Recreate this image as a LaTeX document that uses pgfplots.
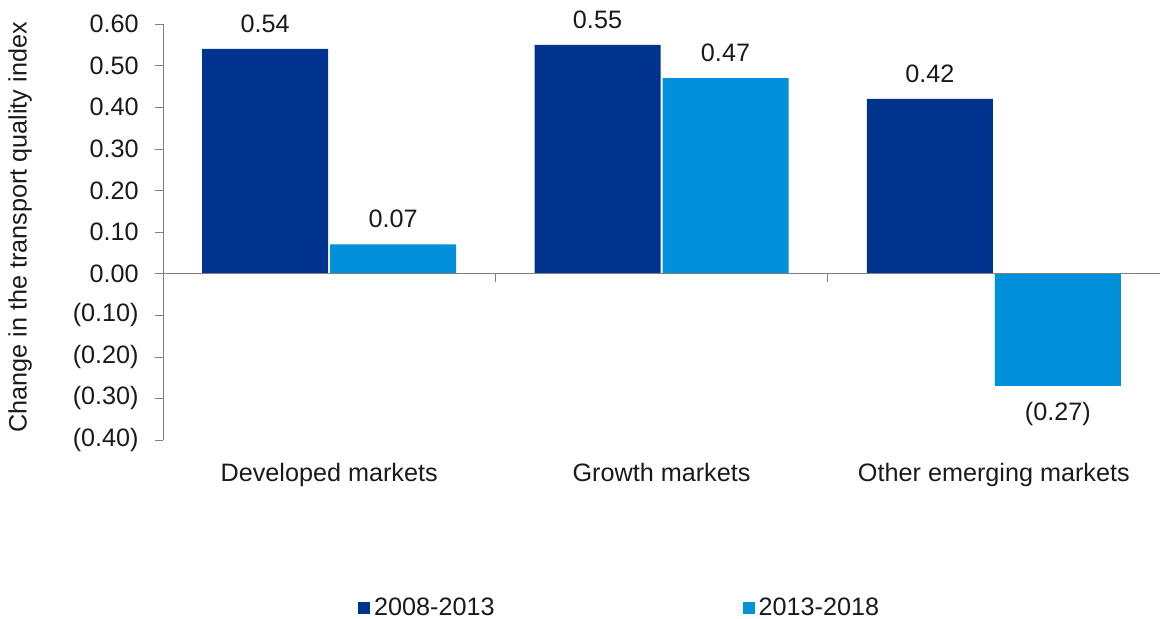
\documentclass[border=0pt,12pt]{standalone}
\usepackage{pgfplots}
\usepackage{pgfplotstable}
\pgfplotsset{compat=1.18}
\usepackage{fontspec}
\setmainfont{Liberation Sans}
\definecolor{darkb}{HTML}{00338D}
\definecolor{lightb}{HTML}{0091DA}
\definecolor{axgray}{HTML}{7F7F7F}
\definecolor{txt}{HTML}{1A1A1A}
\pgfplotstableread{
x y lab
0 0.54 0.54
1 0.55 0.55
2 0.42 0.42
}\dataA
\pgfplotstableread{
x y labpos labneg
0 0.07 0.07 {}
1 0.47 0.47 {}
2 -0.27 {} (0.27)
}\dataB
\newcommand\fs{\fontsize{12.6pt}{15pt}\selectfont}
\begin{document}
\begin{tikzpicture}
\path[use as bounding box] (0,0) rectangle (580pt,309.5pt);
\begin{axis}[
  at={(81.5pt,89.5pt)}, anchor=south west,
  scale only axis, width=498.5pt, height=208pt,
  ybar, bar width=63pt,
  xmin=-0.5, xmax=2.5, ymin=-0.4, ymax=0.6,
  axis x line*=bottom, axis y line*=left,
  x axis line style={draw=none},
  y axis line style={draw=axgray},
  xtick={0,1,2},
  xticklabels={Developed markets, Growth markets, Other emerging markets},
  xtick style={draw=none},
  xticklabel style={yshift=-3.5pt, text=txt, font=\fs},
  ytick={-0.4,-0.3,-0.2,-0.1,0,0.1,0.2,0.3,0.4,0.5,0.6},
  yticklabels={(0.40),(0.30),(0.20),(0.10),0.00,0.10,0.20,0.30,0.40,0.50,0.60},
  ytick style={draw=axgray},
  tick align=outside, major tick length=4pt,
  yticklabel style={xshift=-4pt, text=txt, font=\fs},
  ylabel={Change in the transport quality index},
  ylabel style={at={(axis description cs:-0.1434,0.511)}, anchor=center, text=txt, font=\fs},
  legend style={at={(axis description cs:0.459,-0.404)}, anchor=center,
    legend columns=2, draw=none, text=txt, font=\fs,
    /tikz/every even column/.append style={column sep=122pt}},
  clip=false,
]
\addplot[fill=darkb, draw=none, bar shift=-32pt,
  nodes near coords, point meta=explicit symbolic,
  every node near coord/.append style={text=txt, inner ysep=8pt, anchor=south, font=\fs},
  legend image code/.code={\fill[darkb] (0pt,-3pt) rectangle (6pt,3pt);}]
  table[x=x, y=y, meta=lab]{\dataA};
\addlegendentry{2008-2013}
\addplot[fill=lightb, draw=none, bar shift=32pt,
  nodes near coords, point meta=explicit symbolic,
  every node near coord/.append style={text=txt, inner ysep=8pt, anchor=south, font=\fs},
  legend image code/.code={\fill[lightb] (0pt,-3pt) rectangle (6pt,3pt);}]
  table[x=x, y=y, meta=labpos]{\dataB};
\addlegendentry{2013-2018}
\addplot[draw=none, fill=none, bar shift=32pt, forget plot,
  nodes near coords, point meta=explicit symbolic,
  every node near coord/.append style={text=txt, inner ysep=8pt, anchor=north, font=\fs}]
  table[x=x, y=y, meta=labneg]{\dataB};
\draw[axgray] (axis cs:-0.5,0) -- (axis cs:2.5,0);
\draw[axgray] (axis cs:0.5,0) -- ([yshift=-4pt]axis cs:0.5,0);
\draw[axgray] (axis cs:1.5,0) -- ([yshift=-4pt]axis cs:1.5,0);
\draw[axgray] (axis cs:2.5,0) -- ([yshift=-4pt]axis cs:2.5,0);
\end{axis}
\end{tikzpicture}
\end{document}
